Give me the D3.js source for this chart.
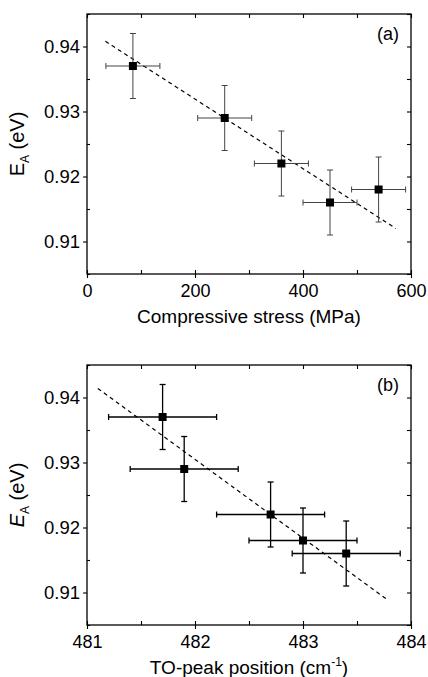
<!DOCTYPE html>
<html>
<head>
<meta charset="utf-8">
<title>EA vs stress and TO-peak</title>
<script src="https://cdn.jsdelivr.net/npm/d3@7"></script>
<style>
	body { margin: 0; background: #fff; }
	svg text { font-family: "Liberation Sans", Arial, Helvetica, sans-serif; fill: #000; }
</style>
</head>
<body>
<svg id="fig" width="428" height="677"></svg>
<script>
	// ---- data ----
	var stress = [85, 255, 360, 450, 540];
	var stressErr = [50, 50, 50, 50, 50];
	var eaA = [0.937, 0.929, 0.922, 0.916, 0.918];

	var toPeak = [481.7, 481.9, 482.7, 483.0, 483.4];
	var toPeakErr = [0.5, 0.5, 0.5, 0.5, 0.5];
	var eaB = [0.937, 0.929, 0.922, 0.918, 0.916];

	var eaErr = [0.005, 0.005, 0.005, 0.005, 0.005];

	// linear fits (end points)
	var fitAx = [34, 572], fitAy = [0.9408, 0.9120];
	var fitBx = [481.1, 483.78], fitBy = [0.9414, 0.9089];

	var yTicks = [0.91, 0.92, 0.93, 0.94];
	var yMinor = [0.905, 0.915, 0.925, 0.935, 0.945];
	var xTicksA = [0, 200, 400, 600];
	var xMinorA = [100, 300, 500];
	var xTicksB = [481, 482, 483, 484];
	var xMinorB = [481.5, 482.5, 483.5];

	var svg = d3.select('#fig');
	var W = 324, H = 260, left = 87;

	function panel(opt) {
		var g = svg.append('g').attr('transform', 'translate(' + left + ',' + opt.top + ')');
		var x = d3.scaleLinear().domain(opt.xDomain).range([0, W]);
		var y = d3.scaleLinear().domain([0.905, 0.945]).range([H, 0]);

		// frame
		g.append('rect').attr('width', W).attr('height', H)
			.attr('fill', 'none').attr('stroke', '#000').attr('stroke-width', 1.3);

		function clean(sel) { sel.select('.domain').remove(); sel.selectAll('line').attr('stroke', '#000').attr('stroke-width', 1.1); }

		// bottom: majors crossing, minors inside
		g.append('g').attr('transform', 'translate(0,' + H + ')')
			.call(d3.axisBottom(x).tickValues(opt.xTicks).tickSize(4).tickPadding(6).tickFormat(d3.format('d')))
			.call(clean)
			.selectAll('text').style('font-size', '18px').attr('fill', '#000');
		g.append('g').attr('transform', 'translate(0,' + H + ')')
			.call(d3.axisBottom(x).tickValues(opt.xTicks.concat(opt.xMinor)).tickSize(-4).tickFormat(''))
			.call(clean);
		// top
		g.append('g')
			.call(d3.axisTop(x).tickValues(opt.xTicks.concat(opt.xMinor)).tickSize(-4).tickFormat(''))
			.call(clean);
		// left
		g.append('g')
			.call(d3.axisLeft(y).tickValues(yTicks).tickSize(4).tickPadding(3).tickFormat(d3.format('.2f')))
			.call(clean)
			.selectAll('text').style('font-size', '18.5px').attr('fill', '#000');
		g.append('g')
			.call(d3.axisLeft(y).tickValues(yMinor).tickSize(-3).tickFormat(''))
			.call(clean);
		// right
		g.append('g').attr('transform', 'translate(' + W + ',0)')
			.call(d3.axisRight(y).tickValues(yTicks.concat(yMinor)).tickSize(-4).tickFormat(''))
			.call(clean);

		// fit line
		g.append('line')
			.attr('x1', x(opt.fitX[0])).attr('y1', y(opt.fitY[0]))
			.attr('x2', x(opt.fitX[1])).attr('y2', y(opt.fitY[1]))
			.attr('stroke', '#000').attr('stroke-width', 1.2).attr('stroke-dasharray', '4,3.5');

		// error bars
		var pts = opt.xs.map(function (v, i) {
			return { x: v, y: opt.ys[i], ex: opt.xErr[i], ey: eaErr[i] };
		});
		var cap = 3;
		var eb = g.append('g').attr('stroke', opt.errColor).attr('stroke-width', opt.errWidth).attr('fill', 'none');
		pts.forEach(function (d) {
			var cx = x(d.x), cy = y(d.y);
			var x0 = x(d.x - d.ex), x1 = x(d.x + d.ex);
			var y0 = y(d.y - d.ey), y1 = y(d.y + d.ey);
			eb.append('line').attr('x1', x0).attr('x2', x1).attr('y1', cy).attr('y2', cy);
			eb.append('line').attr('x1', x0).attr('x2', x0).attr('y1', cy - cap).attr('y2', cy + cap);
			eb.append('line').attr('x1', x1).attr('x2', x1).attr('y1', cy - cap).attr('y2', cy + cap);
			eb.append('line').attr('x1', cx).attr('x2', cx).attr('y1', y0).attr('y2', y1);
			eb.append('line').attr('x1', cx - cap).attr('x2', cx + cap).attr('y1', y0).attr('y2', y0);
			eb.append('line').attr('x1', cx - cap).attr('x2', cx + cap).attr('y1', y1).attr('y2', y1);
		});

		// markers
		var s = 8;
		g.selectAll('rect.pt').data(pts).enter().append('rect')
			.attr('class', 'pt')
			.attr('x', function (d) { return x(d.x) - s / 2; })
			.attr('y', function (d) { return y(d.y) - s / 2; })
			.attr('width', s).attr('height', s).attr('fill', '#000');

		// panel letter
		g.append('text').attr('x', W - 12).attr('y', 26).attr('text-anchor', 'end')
			.style('font-size', '18px').text(opt.letter);

		// y label
		var yl = g.append('text').attr('transform', 'translate(-63,' + (H / 2) + ') rotate(-90)')
			.attr('text-anchor', 'middle').style('font-size', '20px');
		yl.append('tspan').style('font-style', opt.italicE ? 'italic' : 'normal').text('E');
		yl.append('tspan').attr('dy', 5).style('font-size', '12px').text('A');
		yl.append('tspan').attr('dy', -5).text(' (eV)');

		// x label
		var xl = g.append('text').attr('x', W / 2).attr('y', H + opt.xLabelDy)
			.attr('text-anchor', 'middle').style('font-size', '19px');
		opt.xLabel(xl);
	}

	panel({
		top: 14, xDomain: [0, 600], xTicks: xTicksA, xMinor: xMinorA,
		xs: stress, ys: eaA, xErr: stressErr, fitX: fitAx, fitY: fitAy,
		errColor: '#444', errWidth: 1, letter: '(a)', italicE: false, xLabelDy: 49,
		xLabel: function (t) { t.text('Compressive stress (MPa)'); }
	});

	panel({
		top: 365, xDomain: [481, 484], xTicks: xTicksB, xMinor: xMinorB,
		xs: toPeak, ys: eaB, xErr: toPeakErr, fitX: fitBx, fitY: fitBy,
		errColor: '#000', errWidth: 1.3, letter: '(b)', italicE: true, xLabelDy: 49,
		xLabel: function (t) {
			t.append('tspan').text('TO-peak position (cm');
			t.append('tspan').attr('dy', -8).style('font-size', '12px').text('-1');
			t.append('tspan').attr('dy', 8).text(')');
		}
	});
</script>
</body>
</html>
